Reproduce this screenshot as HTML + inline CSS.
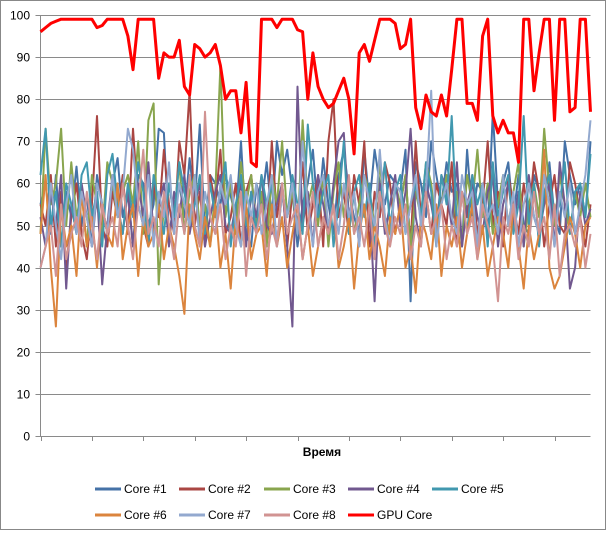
<!DOCTYPE html>
<html><head><meta charset="utf-8"><style>
body{margin:0;background:#fff;}
svg text{font-family:"Liberation Sans",sans-serif;font-size:12px;fill:#000;}
</style></head><body>
<svg id="chart" width="606" height="530" xmlns="http://www.w3.org/2000/svg">
<rect x="0.5" y="0.5" width="605" height="529" fill="#fff" stroke="#888"/>
<g id="grid"></g><g id="axes"></g><g id="series"></g><g id="legend"></g>
<text x="322" y="456" text-anchor="middle" style="font-weight:bold">Время</text>
</svg>
<script>
const yTicks=[0,10,20,30,40,50,60,70,80,90,100];
const seriesNames=["Core #1","Core #2","Core #3","Core #4","Core #5","Core #6","Core #7","Core #8","GPU Core"];
const seriesColors=["#4572a7","#aa4643","#89a54e","#71588f","#4198af","#db843d","#93a9cf","#d19392","#ff0000"];
const core1=[55,60,48,62,45,58,52,64,50,57,45,62,55,48,60,66,52,58,45,62,60,50,55,73,72,48,55,60,52,66,55,74,48,62,60,55,62,57,52,70,48,45,60,55,65,52,70,62,68,58,45,55,60,68,52,66,55,48,62,68,58,52,48,68,55,68,60,55,62,60,58,68,32,65,60,52,70,62,55,65,58,60,45,68,52,60,58,48,77,55,60,65,52,62,50,48,62,58,55,65,52,48,70,62,55,60,52,70];
const core2=[55,50,62,45,58,40,52,60,48,42,55,76,50,45,58,52,62,48,73,55,50,45,60,52,68,55,48,70,62,82,50,58,45,62,55,68,48,52,60,45,58,62,50,55,48,70,52,60,45,58,50,65,48,55,62,45,70,80,52,58,48,62,55,70,45,58,52,65,60,48,55,62,45,70,52,58,48,60,55,50,65,45,58,52,62,48,55,70,50,58,45,62,55,48,60,52,65,58,45,55,62,50,48,65,60,52,45,55];
const core3=[48,73,55,60,73,50,65,52,58,45,62,55,48,65,60,52,58,62,55,70,48,75,79,36,55,60,52,65,48,58,62,50,55,45,58,88,52,60,48,65,55,62,50,58,45,62,55,70,52,58,48,75,55,60,50,62,45,58,65,52,60,48,55,62,58,50,65,52,48,60,55,62,45,58,52,65,60,48,55,62,50,58,45,62,55,68,52,60,48,55,62,50,58,65,45,55,60,52,73,58,50,62,55,48,58,52,60,52];
const core4=[52,45,58,50,62,35,55,48,60,52,45,58,36,50,62,55,48,58,45,60,52,65,48,55,60,45,58,52,62,48,55,60,45,52,58,62,50,48,55,60,45,58,52,62,50,48,55,60,45,26,83,50,58,45,62,55,48,60,70,72,52,58,45,62,55,32,60,48,55,62,50,58,73,52,45,60,55,48,62,58,50,65,45,55,60,52,48,58,62,45,55,60,50,58,45,62,52,48,55,60,45,65,55,35,40,58,50,54];
const core5=[62,73,50,58,45,60,55,48,62,65,52,58,45,62,67,55,48,60,52,65,58,45,62,55,48,60,52,65,58,50,55,62,48,60,52,58,65,45,55,62,50,58,48,62,55,60,45,58,52,62,55,48,74,60,52,58,62,45,55,70,48,58,62,52,60,45,55,65,50,58,62,48,55,60,52,65,58,45,62,55,76,50,58,48,62,55,60,45,65,52,58,62,48,55,76,50,60,45,58,62,52,55,65,48,58,60,52,67];
const core6=[48,62,40,26,55,45,50,38,58,45,52,40,55,48,45,60,42,50,55,38,52,45,48,55,42,50,45,38,29,55,48,42,52,45,55,40,48,35,52,45,55,42,48,50,38,55,45,52,40,48,55,42,50,38,45,52,48,55,40,45,52,35,48,55,42,50,45,38,52,48,55,40,45,34,52,48,42,55,38,50,45,52,40,48,55,42,50,38,45,52,48,40,55,45,35,50,42,48,68,40,35,38,45,52,48,40,50,52];
const core7=[40,45,60,50,42,55,62,48,58,52,45,60,55,48,62,52,58,73,68,55,50,62,45,58,52,65,48,60,55,50,62,45,58,52,48,60,55,62,50,45,58,52,60,48,55,62,45,58,52,60,48,70,55,45,58,62,50,55,48,60,52,58,45,62,55,50,68,52,45,60,58,48,55,62,50,58,82,45,55,60,52,48,62,55,58,45,60,52,55,48,62,50,58,45,55,60,52,48,62,55,45,58,52,60,48,55,62,75];
const core8=[40,45,50,38,55,42,48,52,45,58,50,42,55,48,52,45,60,50,42,55,68,48,52,45,58,50,42,55,48,62,50,45,77,52,48,55,42,50,45,58,38,52,48,55,42,50,45,60,48,52,55,42,50,58,45,52,48,55,42,50,62,48,52,45,55,42,58,50,45,52,48,55,42,50,45,58,48,52,55,42,50,45,58,48,52,42,55,50,45,32,52,48,55,42,50,45,58,48,52,42,55,38,48,50,45,52,40,48];
const gpu=[96,97,98,98.5,99,99,99,99,99,99,99,97,97.5,99,99,99,99,95,87,99,99,99,99,85,91,90,90,94,83,81,93,92,90,91,93,88,80,82,82,72,84,65,64,99,99,99,97,99,99,99,96.5,96,80,91,83,80,78,79,82,85,80,67,91,93,89,94,99,99,99,98,92,93,99,78,73,81,77,76,81,76,87,99,99,79,79,75,95,99,76,72,75,72,72,65,99,99,82,91,99,99,75,99,99,77,78,99,99,77];
const allSeries=[core1,core2,core3,core4,core5,core6,core7,core8,gpu];
const seriesKeys=["core-1","core-2","core-3","core-4","core-5","core-6","core-7","core-8","gpu-core"];

const NS="http://www.w3.org/2000/svg";
const X0=40.5,X1=590.5,Y0=436,Y1=15;
function yScale(v){return Y0-(v/100)*(Y0-Y1);}
function xScale(i,n){return X0+i*(X1-X0)/(n-1);}
function mk(tag,attrs,parent){const e=document.createElementNS(NS,tag);for(const k in attrs)e.setAttribute(k,attrs[k]);parent.appendChild(e);return e;}
const grid=document.getElementById('grid'),axes=document.getElementById('axes'),ser=document.getElementById('series'),leg=document.getElementById('legend');
yTicks.forEach(t=>{
  const y=Math.round(yScale(t))+0.5;
  if(t>0){const l=mk('line',{x1:X0,x2:X1,y1:y,y2:y,stroke:'#8a8a8a','stroke-width':1},grid);
  
  }
  const tk=mk('line',{x1:X0-5,x2:X0,y1:y,y2:y,stroke:'#8a8a8a'},axes);
  
  
  const tx=mk('text',{x:30,y:y+4,'text-anchor':'end'},axes);tx.textContent=t;
  
  
});
const ya=mk('line',{x1:X0,x2:X0,y1:Y1,y2:Y0,stroke:'#8a8a8a'},axes);


const xa=mk('line',{x1:X0,x2:X1,y1:Y0+0.5,y2:Y0+0.5,stroke:'#8a8a8a'},axes);


const N=gpu.length;
for(let i=0;i<N;i+=10){const x=Math.round(xScale(i,N))+0.5;
  const tk=mk('line',{x1:x,x2:x,y1:Y0,y2:Y0+5,stroke:'#8a8a8a'},axes);
  
  }
allSeries.forEach((d,s)=>{
  const pts=d.map((v,i)=>xScale(i,d.length).toFixed(1)+','+yScale(v).toFixed(1)).join(' ');
  const p=mk('polyline',{points:pts,fill:'none',stroke:seriesColors[s],'stroke-width':s===8?3:2,'stroke-linejoin':'round'},ser);
  
  
});
const legX=[95,179,264,348,432];
seriesNames.forEach((n,s)=>{
  const x=legX[s%5],y=s<5?489:515;
  const g=mk('g',{},leg);
  
  
  mk('line',{x1:x,x2:x+26,y1:y,y2:y,stroke:seriesColors[s],'stroke-width':s===8?3:3},g);
  const t=mk('text',{x:x+29,y:y+4},g);t.textContent=n;
});
</script>
</body></html>
